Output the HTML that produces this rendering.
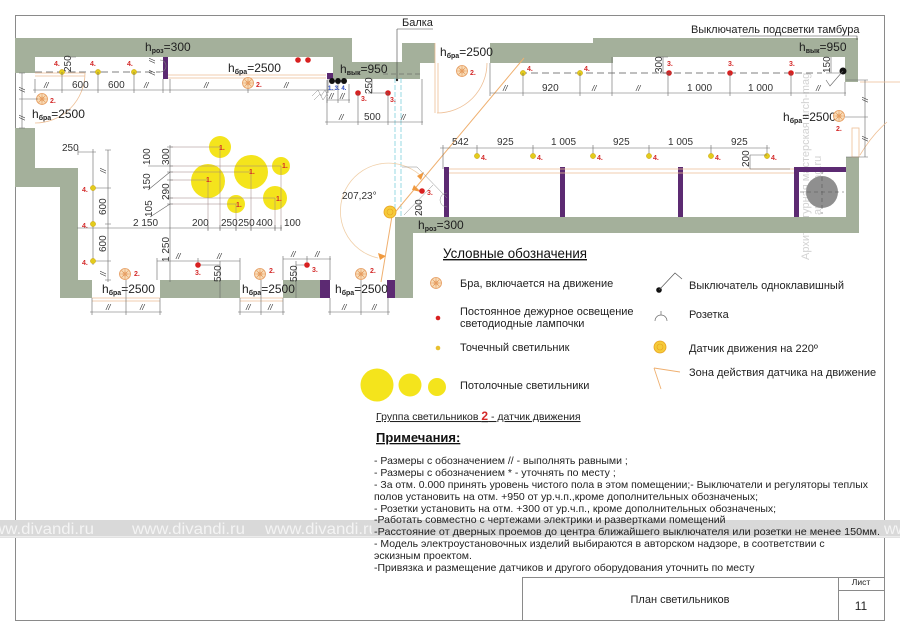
<!DOCTYPE html>
<html><head><meta charset="utf-8"><style>
html,body{margin:0;padding:0;background:#fff;}
svg{display:block}
text{font-family:"Liberation Sans",Arial,sans-serif}
.r{fill:#d42a2a;font-size:7px;font-weight:bold}
.d{fill:#333;font-size:10px}
.s{fill:#333;font-size:8px;font-style:italic}
.dl{stroke:#666;stroke-width:.6;fill:none}
.or{stroke:#eebf95;stroke-width:.8;fill:none}
.t{fill:#222;font-size:11px}
.h{fill:#222;font-size:12px}
.hs{font-size:7px;font-weight:bold}
</style></head><body>
<svg width="900" height="636" viewBox="0 0 900 636" xmlns="http://www.w3.org/2000/svg">
<defs>
<g id="bra"><circle r="5.5" fill="#f8dcb8" stroke="#e59a5c" stroke-width=".8"/><path d="M-5,0H5M0,-5V5M-3.5,-3.5L3.5,3.5M-3.5,3.5L3.5,-3.5" stroke="#e59a5c" stroke-width=".6"/><circle r="2" fill="none" stroke="#e59a5c" stroke-width=".6"/></g>
<g id="yd"><circle r="2.6" fill="#e3cc1c" stroke="#c9a010" stroke-width=".5"/></g>
<g id="rd"><circle r="2.8" fill="#d82020"/></g>
<clipPath id="wm"><rect x="0" y="500" width="372" height="60"/></clipPath>
</defs>
<rect width="900" height="636" fill="#fff"/>
<rect x="15.5" y="15.5" width="869" height="605" fill="none" stroke="#8a8a8a" stroke-width="1"/>

<!-- vertical watermark -->
<text transform="translate(809,260) rotate(-90)" fill="#d2d2d2" font-size="11">Архитектурная мастерская arch-mag</text>
<text transform="translate(821,215) rotate(-90)" fill="#d2d2d2" font-size="11">arch-mag.ru</text>

<!-- walls -->
<g fill="#a4b09b">
<polygon points="15,38 352,38 352,62 420,62 420,79 333,79 333,57 35,57 35,73 15,73"/>
<rect x="402" y="43" width="33" height="20"/>
<polygon points="490,43 593,43 593,38 858,38 858,82 845,82 845,57 613,57 613,63 490,63"/>
<polygon points="15,128 35,128 35,168 78,168 78,280 92,280 92,298 60,298 60,187 15,187"/>
<rect x="160" y="280" width="80" height="18"/>
<rect x="283" y="280" width="37" height="18"/>
<polygon points="395,217 846,217 846,157 859,157 859,233 413,233 413,298 395,298"/>
</g>
<g fill="#5c2a72">
<rect x="163" y="57" width="5" height="22"/>
<rect x="327" y="73" width="6" height="6"/>
<rect x="320" y="280" width="10" height="18"/>
<rect x="387" y="280" width="8" height="18"/>
<rect x="444" y="167" width="5" height="50"/>
<rect x="560" y="167" width="5" height="50"/>
<rect x="678" y="167" width="5" height="50"/>
<rect x="794" y="167" width="5" height="50"/>
<rect x="794" y="167" width="52" height="5"/>
</g>
<circle cx="822" cy="192" r="16" fill="#8f8f8f"/>
<path d="M800,192H844M822,170V214" stroke="#555" stroke-width=".6" stroke-dasharray="4,3"/>

<!-- orange door/frame lines -->
<path class="or" d="M35,73H85M35,76H85M85,73A50,50 0 0 1 35,123"/>
<path class="or" d="M168,75H326M168,78H326"/>
<path class="or" d="M435,43V113M438,63V113M437,113A50,50 0 0 0 487,63"/>
<path class="or" d="M449,169H794M449,173H794"/>
<path class="or" d="M92,298H160M92,301H160M240,298H283M240,301H283"/>
<path class="or" d="M860,82H900M887,122Q872,135 860,155"/>
<rect x="852" y="128" width="7" height="29" fill="none" stroke="#eebf95" stroke-width=".8"/>

<!-- beam -->
<path d="M395,78V217M401,78V217" stroke="#6cc8d8" stroke-width=".7" stroke-dasharray="5,2"/>
<path d="M397,29V80M397,29H433" stroke="#444" stroke-width=".6"/>
<circle cx="397" cy="80" r="1.2" fill="#222"/>
<text class="t" x="402" y="26">Балка</text>

<!-- sensor zone -->
<path d="M420,175A48,48 0 1 0 378,258" stroke="#f0cfa8" stroke-width=".8" fill="none"/>
<path d="M392,216L524,58M392,216L381,282" stroke="#efb070" stroke-width="1"/>
<polygon points="417,176 424,172 421,180" fill="#f09a40"/>
<polygon points="378,253 386,256 380,260" fill="#f09a40"/>
<polygon points="414,185 421,192 412,190" fill="#f09a40"/>
<circle cx="390" cy="212" r="6" fill="#f5cb3a" stroke="#e8a020" stroke-width=".8"/>
<circle cx="390" cy="212" r="3" fill="none" stroke="#e8a020" stroke-width=".6"/>
<text class="d" x="342" y="199" font-size="11">207,23°</text>

<!-- vestibule details -->
<path d="M402,167H417L447,198M404,215L433,185M420,201V215" stroke="#888" stroke-width=".5" fill="none"/>
<path d="M447,193A7,7 0 0 0 447,207" stroke="#888" stroke-width=".5" fill="none"/>
<use href="#rd" x="422" y="191"/><text class="r" x="427" y="195">3.</text>
<text class="d" font-size="9" transform="translate(422,216) rotate(-90)">200</text>

<!-- ===== left room top ===== -->
<path d="M35,72H160" stroke="#555" stroke-width=".7" stroke-dasharray="7,4"/>
<use href="#yd" x="62" y="72"/><use href="#yd" x="98" y="72"/><use href="#yd" x="134" y="72"/>
<text class="r" x="54" y="66">4.</text><text class="r" x="90" y="66">4.</text><text class="r" x="127" y="66">4.</text>
<text class="d" font-size="9" transform="translate(71,72) rotate(-90)">250</text>
<path class="dl" d="M33,90H335M35,87v6M62,87v6M98,87v6M134,87v6M163,87v6M170,87v6M248,87v6M328,87v6M62,72V93M98,72V93M134,72V93M35,79V93M163,79V93M170,79V93M248,82V93M328,79V93M68,57H76M68,72H76"/>
<text class="s" x="44" y="88">//</text><text class="d" x="72" y="88">600</text><text class="d" x="108" y="88">600</text><text class="s" x="144" y="88">//</text><text class="s" x="204" y="88">//</text><text class="s" x="284" y="88">//</text>
<text class="s" transform="translate(155,75) rotate(-90)">//</text><text class="s" transform="translate(155,63) rotate(-90)">//</text>
<path d="M160,60A6,6 0 0 1 160,72" stroke="#777" stroke-width=".6" fill="none"/>
<text class="h" x="145" y="51">h<tspan class="hs" dy="2">роз</tspan><tspan dy="-2">=300</tspan></text>
<use href="#rd" x="298" y="60"/><use href="#rd" x="308" y="60"/>
<text class="h" x="228" y="72">h<tspan class="hs" dy="2">бра</tspan><tspan dy="-2">=2500</tspan></text>
<use href="#bra" x="248" y="83"/><text class="r" x="256" y="87">2.</text>

<!-- switches cluster -->
<circle cx="332" cy="81" r="3" fill="#111"/><circle cx="338" cy="81" r="3" fill="#111"/><circle cx="344" cy="81" r="3" fill="#111"/>
<text x="328" y="90" fill="#2848c0" font-size="6" font-weight="bold">1. 3. 4.</text>
<path d="M312,96L318,90L321,96L325,90L328,96M314,100L320,94L323,100L327,94" stroke="#888" stroke-width=".5" fill="none"/>
<path class="dl" d="M327,100H350M327,97v6M338,97v6M349,97v6M338,84V103M349,84V103"/>
<text class="s" x="329" y="99">//</text><text class="s" x="340" y="99">//</text>
<use href="#rd" x="358" y="93"/><use href="#rd" x="388" y="93"/>
<text class="r" x="361" y="101">3.</text><text class="r" x="390" y="102">3.</text>
<path class="dl" d="M372,79V93M368,93H388"/>
<text class="d" font-size="9" transform="translate(372,94) rotate(-90)">250</text>
<path class="dl" d="M325,122H423M327,119v6M358,119v6M388,119v6M422,119v6M327,80V124M358,93V124M388,93V124M422,79V124"/>
<text class="s" x="339" y="120">//</text><text class="d" x="364" y="120">500</text><text class="s" x="401" y="120">//</text>
<text class="h" x="340" y="73">h<tspan class="hs" dy="2">вык</tspan><tspan dy="-2">=950</tspan></text>
<path d="M383,74H420" stroke="#555" stroke-width=".6" stroke-dasharray="5,3"/>

<!-- left door -->
<text class="h" x="32" y="118">h<tspan class="hs" dy="2">бра</tspan><tspan dy="-2">=2500</tspan></text>
<use href="#bra" x="42" y="99"/><text class="r" x="50" y="103">2.</text>
<path class="dl" d="M22,73V128M19,73h6M19,99h6M19,128h6M22,99H38"/>
<text class="s" transform="translate(25,92) rotate(-90)">//</text><text class="s" transform="translate(25,120) rotate(-90)">//</text>

<!-- left middle -->
<text class="d" x="62" y="151">250</text>
<path class="dl" d="M78,152H96M78,149v6M93,149v6M93,152V265M108,150V282M105,150h6M105,188h6M105,224h6M105,261h6M105,280h6M93,188H110M93,261H110"/>
<use href="#yd" x="93" y="188"/><use href="#yd" x="93" y="224"/><use href="#yd" x="93" y="261"/>
<text class="r" x="82" y="192">4.</text><text class="r" x="82" y="228">4.</text><text class="r" x="82" y="265">4.</text>
<text class="s" transform="translate(106,173) rotate(-90)">//</text>
<text class="d" transform="translate(106,215) rotate(-90)">600</text>
<text class="d" transform="translate(106,252) rotate(-90)">600</text>
<text class="s" transform="translate(106,276) rotate(-90)">//</text>

<!-- ceiling lights -->
<g fill="#f4e41c">
<circle cx="220" cy="147" r="11"/><circle cx="251" cy="172" r="17"/><circle cx="281" cy="166" r="9"/>
<circle cx="208" cy="181" r="17"/><circle cx="275" cy="198" r="12"/><circle cx="236" cy="204" r="9"/>
</g>
<path d="M170,147H220M170,166H281M170,172H251M170,180H208M170,198H275M170,204H236M220,147V230M281,166V230M251,172V230M208,181V230M275,198V230M236,204V230" stroke="#9a8080" stroke-width=".5" fill="none"/>
<path class="dl" d="M170,145V282M167,147h6M167,166h6M167,172h6M167,180h6M167,198h6M167,204h6M167,228h6M77,228H282M208,225v6M220,225v6M236,225v6M251,225v6M275,225v6M281,225v6M148,166L170,166M148,190L170,172M150,217L170,204"/>
<text class="r" x="219" y="150">1.</text><text class="r" x="249" y="174">1.</text><text class="r" x="282" y="168">1.</text>
<text class="r" x="206" y="182">1.</text><text class="r" x="276" y="201">1.</text><text class="r" x="236" y="207">1.</text>
<text class="d" font-size="9" transform="translate(169,165) rotate(-90)">300</text>
<text class="d" font-size="9" transform="translate(169,200) rotate(-90)">290</text>
<text class="d" font-size="9" transform="translate(169,262) rotate(-90)">1 250</text>
<text class="d" font-size="9" transform="translate(150,165) rotate(-90)">100</text>
<text class="d" font-size="9" transform="translate(150,190) rotate(-90)">150</text>
<text class="d" font-size="9" transform="translate(152,217) rotate(-90)">105</text>
<text class="d" x="133" y="226">2 150</text>
<text class="d" x="192" y="226">200</text><text class="d" x="221" y="226">250</text><text class="d" x="238" y="226">250</text><text class="d" x="256" y="226">400</text><text class="d" x="284" y="226">100</text>

<!-- bottom left room -->
<use href="#bra" x="125" y="274"/><text class="r" x="134" y="276">2.</text>
<text class="h" x="102" y="293">h<tspan class="hs" dy="2">бра</tspan><tspan dy="-2">=2500</tspan></text>
<path class="dl" d="M90,312H162M92,309v6M126,309v6M160,309v6M92,298V315M126,280V315M160,298V315"/>
<text class="s" x="106" y="310">//</text><text class="s" x="140" y="310">//</text>
<path class="dl" d="M157,261H240M157,258v6M198,258v6M240,258v6M157,261V280M240,261V280M198,265H220M220,261V298"/>
<text class="s" x="176" y="259">//</text><text class="s" x="217" y="259">//</text>
<use href="#rd" x="198" y="265"/><text class="r" x="195" y="275">3.</text>
<text class="d" font-size="9" transform="translate(221,282) rotate(-90)">550</text>

<use href="#bra" x="260" y="274"/><text class="r" x="269" y="273">2.</text>
<text class="h" x="242" y="293">h<tspan class="hs" dy="2">бра</tspan><tspan dy="-2">=2500</tspan></text>
<path class="dl" d="M238,312H285M240,309v6M261,309v6M283,309v6M240,298V315M261,280V315M283,298V315"/>
<text class="s" x="246" y="310">//</text><text class="s" x="268" y="310">//</text>
<path class="dl" d="M283,259H331M283,256v6M307,256v6M330,256v6M283,259V280M330,259V280M296,265H307M296,261V298"/>
<text class="s" x="291" y="257">//</text><text class="s" x="315" y="257">//</text>
<use href="#rd" x="307" y="265"/><text class="r" x="312" y="272">3.</text>
<text class="d" font-size="9" transform="translate(297,282) rotate(-90)">550</text>

<use href="#bra" x="361" y="274"/><text class="r" x="370" y="273">2.</text>
<text class="h" x="335" y="293">h<tspan class="hs" dy="2">бра</tspan><tspan dy="-2">=2500</tspan></text>
<path class="dl" d="M328,312H390M330,309v6M361,309v6M388,309v6M330,298V315M361,280V315M388,298V315"/>
<text class="s" x="342" y="310">//</text><text class="s" x="372" y="310">//</text>

<!-- right lower room -->
<path class="dl" d="M440,148H770M443,145v6M477,145v6M533,145v6M593,145v6M649,145v6M711,145v6M767,145v6M443,148V169M477,148V156M533,148V156M593,148V156M649,148V156M711,148V156M767,148V156"/>
<text class="d" x="452" y="145">542</text><text class="d" x="497" y="145">925</text><text class="d" x="551" y="145">1 005</text><text class="d" x="613" y="145">925</text><text class="d" x="668" y="145">1 005</text><text class="d" x="731" y="145">925</text>
<use href="#yd" x="477" y="156"/><use href="#yd" x="533" y="156"/><use href="#yd" x="593" y="156"/><use href="#yd" x="649" y="156"/><use href="#yd" x="711" y="156"/><use href="#yd" x="767" y="156"/>
<text class="r" x="481" y="160">4.</text><text class="r" x="537" y="160">4.</text><text class="r" x="597" y="160">4.</text><text class="r" x="653" y="160">4.</text><text class="r" x="715" y="160">4.</text><text class="r" x="771" y="160">4.</text>
<path class="dl" d="M750,155H767M750,169H790M750,155V169"/>
<text class="d" font-size="9" transform="translate(749,167) rotate(-90)">200</text>
<text class="h" x="418" y="229">h<tspan class="hs" dy="2">роз</tspan><tspan dy="-2">=300</tspan></text>

<!-- top middle door -->
<text class="h" x="440" y="56">h<tspan class="hs" dy="2">бра</tspan><tspan dy="-2">=2500</tspan></text>
<use href="#bra" x="462" y="71"/><text class="r" x="470" y="75">2.</text>

<!-- top right room -->
<path d="M520,73H822" stroke="#555" stroke-width=".7" stroke-dasharray="7,4"/>
<use href="#yd" x="523" y="73"/><use href="#yd" x="580" y="73"/>
<use href="#rd" x="669" y="73"/><use href="#rd" x="730" y="73"/><use href="#rd" x="791" y="73"/>
<text class="r" x="527" y="71">4.</text><text class="r" x="584" y="71">4.</text>
<text class="r" x="667" y="66">3.</text><text class="r" x="728" y="66">3.</text><text class="r" x="789" y="66">3.</text>
<path class="dl" d="M490,93H846M490,90v6M523,90v6M580,90v6M612,90v6M668,90v6M730,90v6M791,90v6M845,90v6M490,63V96M523,73V96M580,73V96M612,57V96M668,73V96M730,73V96M791,73V96M845,82V96M663,57V73M658,57H668M660,73H672M831,57V73M826,73H840"/>
<text class="s" x="503" y="91">//</text><text class="d" x="542" y="91">920</text><text class="s" x="592" y="91">//</text><text class="s" x="636" y="91">//</text><text class="d" x="687" y="91">1 000</text><text class="d" x="748" y="91">1 000</text><text class="s" x="816" y="91">//</text>
<text class="d" transform="translate(662,73) rotate(-90)">300</text>
<text class="d" transform="translate(830,73) rotate(-90)">150</text>
<circle cx="843" cy="71" r="3.5" fill="#111"/>
<path d="M843,71L830,86L826,80" stroke="#666" stroke-width=".6" fill="none"/>
<text class="h" x="799" y="51">h<tspan class="hs" dy="2">вык</tspan><tspan dy="-2">=950</tspan></text>
<text class="t" x="691" y="33">Выключатель подсветки тамбура</text>
<path d="M740,36H857V40" stroke="#444" stroke-width=".6" fill="none"/>
<text class="h" x="783" y="121">h<tspan class="hs" dy="2">бра</tspan><tspan dy="-2">=2500</tspan></text>
<use href="#bra" x="839" y="116"/><text class="r" x="836" y="131">2.</text>
<path class="dl" d="M865,80V157M862,80h6M862,117h6M862,157h6M846,80H868M845,117H868M846,157H868"/>
<text class="s" transform="translate(868,102) rotate(-90)">//</text><text class="s" transform="translate(868,141) rotate(-90)">//</text>

<!-- legend -->
<text x="443" y="258" fill="#111" font-size="14" text-decoration="underline" textLength="144" lengthAdjust="spacingAndGlyphs">Условные обозначения</text>
<use href="#bra" x="436" y="283"/>
<text class="t" x="460" y="287">Бра, включается на движение</text>
<circle cx="438" cy="318" r="2.3" fill="#d82020"/>
<text class="t" x="460" y="315">Постоянное дежурное освещение</text>
<text class="t" x="460" y="327">светодиодные лампочки</text>
<circle cx="438" cy="348" r="2.3" fill="#e8c030"/>
<text class="t" x="460" y="351">Точечный светильник</text>
<g fill="#f4e41c"><circle cx="377" cy="385" r="16.5"/><circle cx="410" cy="385" r="11.5"/><circle cx="437" cy="387" r="9"/></g>
<text class="t" x="460" y="389">Потолочные светильники</text>
<text x="376" y="420" fill="#222" font-size="10.5" text-decoration="underline">Группа светильников  <tspan fill="#d42a2a" font-weight="bold" font-size="12">2</tspan> - датчик движения</text>
<circle cx="659" cy="290" r="2.8" fill="#111"/>
<path d="M659,290L675,273L682,279" stroke="#555" stroke-width=".7" fill="none"/>
<text class="t" x="689" y="289">Выключатель одноклавишный</text>
<path d="M655,321A6,6 0 0 1 667,321M661,315V311" stroke="#666" stroke-width=".7" fill="none"/>
<text class="t" x="689" y="318">Розетка</text>
<circle cx="660" cy="347" r="6" fill="#f5cb3a" stroke="#e8a020" stroke-width=".8"/><circle cx="660" cy="347" r="3" fill="none" stroke="#e8a020" stroke-width=".6"/>
<text class="t" x="689" y="352">Датчик движения на 220º</text>
<path d="M654,368L680,372M654,368L661,389" stroke="#efb070" stroke-width=".9" fill="none"/>
<text class="t" x="689" y="376">Зона действия датчика на движение</text>

<!-- watermark band -->
<rect x="0" y="520" width="900" height="18" fill="#d9d9d9"/>
<rect x="0" y="536" width="900" height="1.5" fill="#ececec"/>
<g fill="#f4f4f4" font-size="16" clip-path="url(#wm)">
<text x="-19" y="534" textLength="113" lengthAdjust="spacingAndGlyphs">www.divandi.ru</text>
<text x="132" y="534" textLength="113" lengthAdjust="spacingAndGlyphs">www.divandi.ru</text>
<text x="265" y="534" textLength="113" lengthAdjust="spacingAndGlyphs">www.divandi.ru</text>
</g>
<text x="884" y="534" fill="#f4f4f4" font-size="16">ww</text>

<!-- notes -->
<text x="376" y="442" fill="#111" font-size="13" font-weight="bold" text-decoration="underline">Примечания:</text>
<g fill="#222" font-size="10.5">
<text x="374" y="464">- Размеры с обозначением   //  - выполнять равными ;</text>
<text x="374" y="476">- Размеры с обозначением * - уточнять по месту ;</text>
<text x="374" y="488" textLength="494" lengthAdjust="spacingAndGlyphs">- За отм. 0.000 принять уровень чистого пола в этом помещении;- Выключатели и регуляторы теплых</text>
<text x="374" y="500">полов  установить  на отм. +950 от  ур.ч.п.,кроме дополнительных обозначеных;</text>
<text x="374" y="512">- Розетки  установить  на отм. +300 от  ур.ч.п., кроме дополнительных обозначеных;</text>
<text x="374" y="523">-Работать совместно с чертежами электрики и развертками  помещений</text>
<text x="374" y="535" textLength="506" lengthAdjust="spacingAndGlyphs">-Расстояние от дверных проемов до центра ближайшего выключателя или розетки не менее 150мм.</text>
<text x="374" y="547">- Модель электроустановочных изделий выбираются в авторском надзоре,  в соответствии   с</text>
<text x="374" y="559">эскизным проектом.</text>
<text x="374" y="571">-Привязка и размещение датчиков и другого оборудования уточнить по  месту</text>
</g>

<!-- title block -->
<path d="M522.5,620V577.5H884M838.5,577.5V620M838.5,590.5H884" stroke="#8a8a8a" stroke-width="1" fill="none"/>
<text x="680" y="603" text-anchor="middle" fill="#222" font-size="11">План светильников</text>
<text x="861" y="585" text-anchor="middle" fill="#222" font-size="8.5">Лист</text>
<text x="861" y="610" text-anchor="middle" fill="#222" font-size="12">11</text>
</svg>
</body></html>
